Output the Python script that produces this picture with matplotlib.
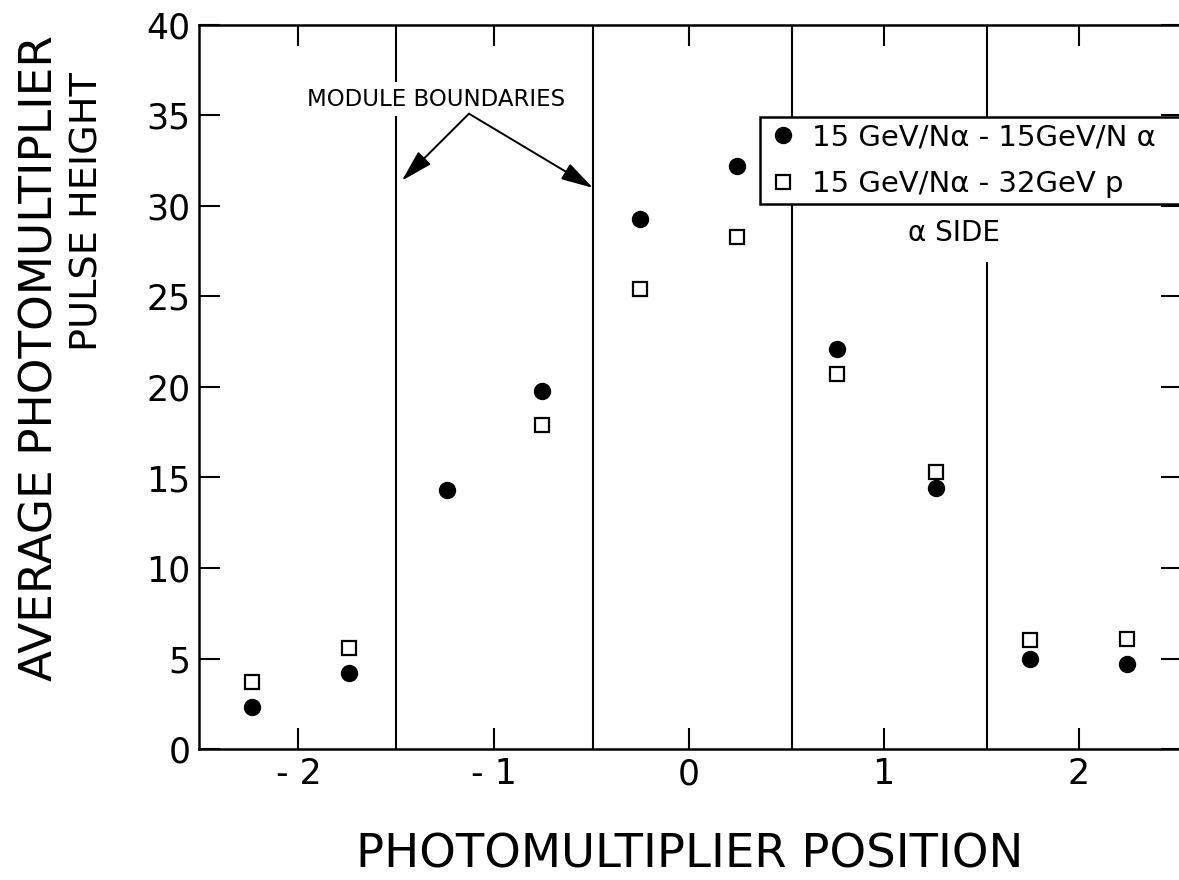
import numpy as np
import matplotlib.pyplot as plt

W, H = 1179, 880

# photomultiplier positions and average pulse heights
positions = [-2.24, -1.74, -1.24, -0.75, -0.25, 0.25, 0.76, 1.27, 1.75, 2.25]
alpha_alpha = [2.3, 4.2, 14.3, 19.8, 29.3, 32.2, 22.1, 14.4, 5.0, 4.7]
pos_p = [-2.24, -1.74, -0.75, -0.25, 0.25, 0.76, 1.27, 1.75, 2.25]
alpha_p = [3.7, 5.6, 17.9, 25.4, 28.3, 20.7, 15.3, 6.0, 6.1]

boundaries = [-1.5, -0.49, 0.53, 1.53]
x_ticks = [-2, -1, 0, 1, 2]
x_labels = ['- 2', '- 1', '0', '1', '2']
y_ticks = [0, 5, 10, 15, 20, 25, 30, 35, 40]

label_aa = '15 GeV/N\u03b1 - 15GeV/N \u03b1'
label_ap = '15 GeV/N\u03b1 - 32GeV p'

plt.rcParams['font.family'] = ['DejaVu Sans']

fig = plt.figure(figsize=(W / 100, H / 100), dpi=100)
ax = fig.add_axes([199 / W, 1 - 749 / H, (1182 - 199) / W, (749 - 25) / H])

for b in boundaries:
    ax.axvline(b, color='black', lw=1.5, zorder=1)

ax.plot(positions, alpha_alpha, 'o', ms=11.5, color='black',
        linestyle='none', label=label_aa, zorder=3)
ax.plot(pos_p, alpha_p, 's', ms=10, mfc='white', mec='black', mew=1.6,
        linestyle='none', label=label_ap, zorder=3)

ax.set_xlim(-2.51, 2.53)
ax.set_ylim(0, 40)
ax.set_xticks(x_ticks)
ax.set_xticklabels(x_labels)
ax.set_yticks(y_ticks)
ax.tick_params(direction='in', length=15, width=1.5, top=True, right=True,
               labelsize=25, pad=6)
for s in ax.spines.values():
    s.set_linewidth(1.8)

# module boundary annotation
ax.text(-1.292, 35.9, 'MODULE BOUNDARIES', fontsize=16.5, ha='center', va='center',
        bbox=dict(fc='white', ec='none', pad=4), zorder=4)
for tip in [(-1.47, 31.4), (-0.49, 31.0)]:
    ax.annotate('', xy=tip, xytext=(-1.126, 35.1),
                arrowprops=dict(arrowstyle='-|>,head_length=0.9,head_width=0.25',
                                color='black', lw=1.4, shrinkA=0, shrinkB=0,
                                mutation_scale=22), zorder=5)

ax.text(1.36, 28.5, '\u03b1 SIDE', fontsize=20, ha='center', va='center',
        bbox=dict(fc='white', ec='none', pad=11), zorder=4)

leg = ax.legend(loc='lower left', mode='expand',
                bbox_to_anchor=(760 / W, 1 - 204 / H, (1210 - 760) / W, 87 / H),
                bbox_transform=fig.transFigure, borderaxespad=0,
                fancybox=False, framealpha=1, edgecolor='black', fontsize=21,
                handlelength=1.2, handletextpad=0.4, borderpad=0.2,
                labelspacing=0.65)
leg.get_frame().set_linewidth(1.8)
leg.set_zorder(6)

# axis titles
fig.text(53 / W, 1 - 358 / H, 'AVERAGE PHOTOMULTIPLIER', rotation=90,
         rotation_mode='anchor', ha='center', va='baseline', fontsize=32.7)
fig.text(97 / W, 1 - 212 / H, 'PULSE HEIGHT', rotation=90,
         rotation_mode='anchor', ha='center', va='baseline', fontsize=27.5)
fig.text(690 / W, 1 - 867 / H, 'PHOTOMULTIPLIER POSITION', ha='center',
         va='baseline', fontsize=33.5)

fig.savefig('out.png', dpi=100, facecolor='white')
